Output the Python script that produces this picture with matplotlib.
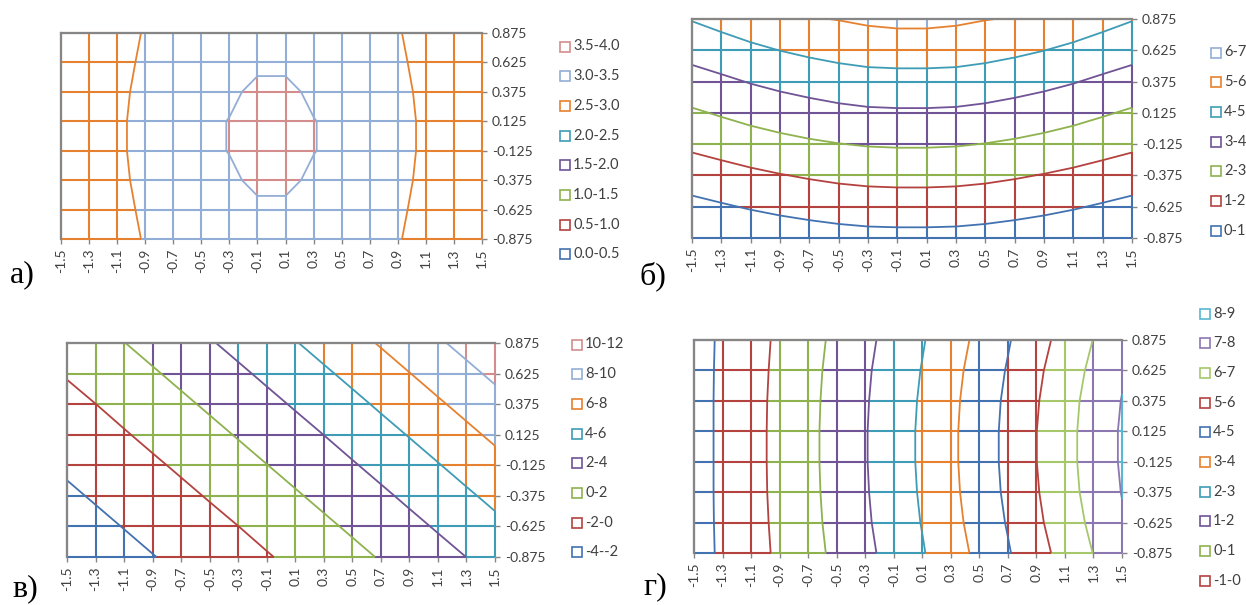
import numpy as np
import matplotlib
matplotlib.use('Agg')
import matplotlib.pyplot as plt
from matplotlib.collections import LineCollection
from matplotlib.lines import Line2D

plt.rcParams['font.family'] = ['Lato', 'DejaVu Sans']

# grid of the surface charts
x_vals = [-1.5, -1.3, -1.1, -0.9, -0.7, -0.5, -0.3, -0.1, 0.1, 0.3, 0.5, 0.7, 0.9, 1.1, 1.3, 1.5]
y_vals = [-0.875, -0.625, -0.375, -0.125, 0.125, 0.375, 0.625, 0.875]
x_labels = ['-1.5', '-1.3', '-1.1', '-0.9', '-0.7', '-0.5', '-0.3', '-0.1',
            '0.1', '0.3', '0.5', '0.7', '0.9', '1.1', '1.3', '1.5']
y_labels = ['-0.875', '-0.625', '-0.375', '-0.125', '0.125', '0.375', '0.625', '0.875']

# panel a) values, rows go from y=-0.875 up to y=0.875
z_a = [
    [2.52, 2.65, 2.83, 3.03, 3.18, 3.29, 3.34, 3.38, 3.38, 3.34, 3.29, 3.18, 3.03, 2.83, 2.65, 2.52],
    [2.56, 2.69, 2.87, 3.07, 3.24, 3.37, 3.41, 3.468, 3.468, 3.41, 3.37, 3.24, 3.07, 2.87, 2.69, 2.56],
    [2.60, 2.73, 2.908, 3.108, 3.29, 3.43, 3.47, 3.537, 3.537, 3.47, 3.43, 3.29, 3.108, 2.908, 2.73, 2.60],
    [2.62, 2.75, 2.93, 3.13, 3.32, 3.46, 3.505, 3.56, 3.56, 3.505, 3.46, 3.32, 3.13, 2.93, 2.75, 2.62],
    [2.62, 2.75, 2.93, 3.13, 3.32, 3.46, 3.505, 3.56, 3.56, 3.505, 3.46, 3.32, 3.13, 2.93, 2.75, 2.62],
    [2.60, 2.73, 2.908, 3.108, 3.29, 3.43, 3.47, 3.537, 3.537, 3.47, 3.43, 3.29, 3.108, 2.908, 2.73, 2.60],
    [2.56, 2.69, 2.87, 3.07, 3.24, 3.37, 3.41, 3.468, 3.468, 3.41, 3.37, 3.24, 3.07, 2.87, 2.69, 2.56],
    [2.52, 2.65, 2.83, 3.03, 3.18, 3.29, 3.34, 3.38, 3.38, 3.34, 3.29, 3.18, 3.03, 2.83, 2.65, 2.52],
]
levels_a = [0.0, 0.5, 1.0, 1.5, 2.0, 2.5, 3.0, 3.5, 4.0]
bands_a = ['0.0-0.5', '0.5-1.0', '1.0-1.5', '1.5-2.0', '2.0-2.5', '2.5-3.0', '3.0-3.5', '3.5-4.0']

# panel б)
z_b = [
    [0.05, 0.19, 0.34, 0.46, 0.56, 0.65, 0.71, 0.73, 0.73, 0.71, 0.65, 0.56, 0.46, 0.34, 0.19, 0.05],
    [0.75, 0.91, 1.07, 1.21, 1.33, 1.43, 1.50, 1.52, 1.52, 1.50, 1.43, 1.33, 1.21, 1.07, 0.91, 0.75],
    [1.45, 1.63, 1.81, 1.96, 2.09, 2.20, 2.27, 2.30, 2.30, 2.27, 2.20, 2.09, 1.96, 1.81, 1.63, 1.45],
    [2.20, 2.39, 2.57, 2.73, 2.87, 2.98, 3.06, 3.09, 3.09, 3.06, 2.98, 2.87, 2.73, 2.57, 2.39, 2.20],
    [2.88, 3.09, 3.30, 3.48, 3.63, 3.76, 3.85, 3.88, 3.88, 3.85, 3.76, 3.63, 3.48, 3.30, 3.09, 2.88],
    [3.60, 3.82, 4.05, 4.24, 4.40, 4.54, 4.64, 4.67, 4.67, 4.64, 4.54, 4.40, 4.24, 4.05, 3.82, 3.60],
    [4.35, 4.58, 4.81, 5.01, 5.18, 5.32, 5.42, 5.45, 5.45, 5.42, 5.32, 5.18, 5.01, 4.81, 4.58, 4.35],
    [5.05, 5.30, 5.55, 5.76, 5.94, 6.03, 6.16, 6.24, 6.24, 6.16, 6.03, 5.94, 5.76, 5.55, 5.30, 5.05],
]
levels_b = [0, 1, 2, 3, 4, 5, 6, 7]
bands_b = ['0-1', '1-2', '2-3', '3-4', '4-5', '5-6', '6-7']

# panel в)
z_c = [
    [-3.30, -2.91, -2.50, -2.06, -1.61, -1.14, -0.65, -0.13, 0.40, 0.95, 1.52, 2.12, 2.73, 3.36, 4.01, 4.69],
    [-2.81, -2.39, -1.95, -1.50, -1.02, -0.52, -0.01, 0.53, 1.09, 1.67, 2.27, 2.88, 3.52, 4.18, 4.86, 5.55],
    [-2.28, -1.84, -1.38, -0.90, -0.39, 0.13, 0.67, 1.23, 1.82, 2.42, 3.04, 3.68, 4.35, 5.03, 5.73, 6.45],
    [-1.73, -1.26, -0.77, -0.26, 0.26, 0.81, 1.38, 1.97, 2.57, 3.20, 3.85, 4.52, 5.20, 5.91, 6.64, 7.39],
    [-1.14, -0.65, -0.13, 0.40, 0.95, 1.52, 2.12, 2.73, 3.36, 4.01, 4.69, 5.38, 6.09, 6.82, 7.58, 8.35],
    [-0.52, -0.01, 0.53, 1.09, 1.67, 2.27, 2.88, 3.52, 4.18, 4.86, 5.55, 6.27, 7.01, 7.77, 8.54, 9.34],
    [0.13, 0.67, 1.23, 1.82, 2.42, 3.04, 3.68, 4.35, 5.03, 5.73, 6.45, 7.20, 7.96, 8.74, 9.54, 10.37],
    [0.81, 1.38, 1.97, 2.57, 3.20, 3.85, 4.52, 5.20, 5.91, 6.64, 7.39, 8.15, 8.94, 9.75, 10.58, 11.42],
]
levels_c = [-4, -2, 0, 2, 4, 6, 8, 10, 12]
bands_c = ['-4--2', '-2-0', '0-2', '2-4', '4-6', '6-8', '8-10', '10-12']

# panel г)
z_d = [
    [-1.37, -0.86, -0.35, 0.16, 0.66, 1.21, 1.78, 2.34, 2.93, 3.57, 4.23, 4.92, 5.65, 6.33, 7.02, 7.68],
    [-1.37, -0.84, -0.32, 0.20, 0.72, 1.28, 1.87, 2.44, 3.04, 3.70, 4.37, 5.07, 5.82, 6.51, 7.21, 7.89],
    [-1.37, -0.83, -0.30, 0.23, 0.75, 1.33, 1.92, 2.51, 3.11, 3.78, 4.46, 5.18, 5.93, 6.63, 7.35, 8.03],
    [-1.37, -0.83, -0.29, 0.24, 0.77, 1.35, 1.95, 2.54, 3.15, 3.82, 4.51, 5.23, 5.99, 6.69, 7.41, 8.10],
    [-1.37, -0.83, -0.29, 0.24, 0.77, 1.35, 1.95, 2.54, 3.15, 3.82, 4.51, 5.23, 5.99, 6.69, 7.41, 8.10],
    [-1.37, -0.83, -0.30, 0.23, 0.75, 1.33, 1.92, 2.51, 3.11, 3.78, 4.46, 5.18, 5.93, 6.63, 7.35, 8.03],
    [-1.37, -0.84, -0.32, 0.20, 0.72, 1.28, 1.87, 2.44, 3.04, 3.70, 4.37, 5.07, 5.82, 6.51, 7.21, 7.89],
    [-1.37, -0.86, -0.35, 0.16, 0.66, 1.21, 1.78, 2.34, 2.93, 3.57, 4.23, 4.92, 5.65, 6.33, 7.02, 7.68],
]
levels_d = [-2, -1, 0, 1, 2, 3, 4, 5, 6, 7, 8, 9]
bands_d = ['-2--1', '-1-0', '0-1', '1-2', '2-3', '3-4', '4-5', '5-6', '6-7', '7-8', '8-9']

BLUE = '#4272b0'
RED = '#b4423f'
GREEN = '#8eb24e'
PURPLE = '#705496'
TEAL = '#3e9cb6'
ORANGE = '#e6822f'
LBLUE = '#93aed6'
LRED = '#d38d8c'
LGREEN = '#a6c86b'
LPURPLE = '#8c77b0'
LTEAL = '#56b8d2'

colors_8 = [BLUE, RED, GREEN, PURPLE, TEAL, ORANGE, LBLUE, LRED]
colors_d = [BLUE, RED, GREEN, PURPLE, TEAL, ORANGE, BLUE, RED, LGREEN, LPURPLE, LTEAL]

W, H = 1246, 605
fig = plt.figure(figsize=(W / 100, H / 100), dpi=100)


def edge_pieces(p0, p1, z0, z1, levels):
    # split one grid edge where it crosses band limits
    ts = [0.0]
    if z1 != z0:
        for L in levels:
            t = (L - z0) / (z1 - z0)
            if 0 < t < 1:
                ts.append(t)
    ts = sorted(ts) + [1.0]
    out = []
    for ta, tb in zip(ts[:-1], ts[1:]):
        zm = z0 + 0.5 * (ta + tb) * (z1 - z0)
        k = int(np.searchsorted(levels, zm)) - 1
        pa = (p0[0] + ta * (p1[0] - p0[0]), p0[1] + ta * (p1[1] - p0[1]))
        pb = (p0[0] + tb * (p1[0] - p0[0]), p0[1] + tb * (p1[1] - p0[1]))
        out.append((pa, pb, k))
    return out


def panel(px, z, levels, colors, bands, legend_x, legend_y0, letter, letter_xy):
    left, right, top, bottom = px
    ax = fig.add_axes([left / W, 1 - bottom / H, (right - left) / W, (bottom - top) / H])
    z = np.array(z)
    segs, cols = [], []
    for j, y in enumerate(y_vals):
        for i in range(len(x_vals) - 1):
            for pa, pb, k in edge_pieces((x_vals[i], y), (x_vals[i + 1], y), z[j, i], z[j, i + 1], levels):
                segs.append([pa, pb])
                cols.append(colors[k])
    for i, x in enumerate(x_vals):
        for j in range(len(y_vals) - 1):
            for pa, pb, k in edge_pieces((x, y_vals[j]), (x, y_vals[j + 1]), z[j, i], z[j + 1, i], levels):
                segs.append([pa, pb])
                cols.append(colors[k])
    ax.add_collection(LineCollection(segs, colors=cols, linewidths=1.5, clip_on=False, zorder=2))

    # contour lines take the colour of the band under them
    inner = [(L, colors[k]) for k, L in enumerate(levels[1:-1]) if z.min() < L < z.max()]
    ax.contour(x_vals, y_vals, z, levels=[c[0] for c in inner],
               colors=[c[1] for c in inner], linewidths=1.3, zorder=3)

    ax.set_xlim(-1.5, 1.5)
    ax.set_ylim(-0.875, 0.875)
    for s in ['right', 'bottom']:
        ax.spines[s].set_visible(False)
    for s in ['top', 'left']:
        ax.spines[s].set_color('#868686')
        ax.spines[s].set_linewidth(1.6)
        ax.spines[s].set_zorder(4)
    ax.set_xticks(x_vals)
    ax.set_xticklabels(x_labels, rotation=90)
    ax.yaxis.tick_right()
    ax.set_yticks(y_vals)
    ax.set_yticklabels(y_labels)
    ax.tick_params(axis='both', direction='out', length=3.5, width=1, color='#868686',
                   labelsize=10, labelcolor='#404040', pad=3.5)
    ax.set_facecolor('white')

    # legend, highest band on top; entries that fall off the figure are left out
    for n, k in enumerate(range(len(bands) - 1, -1, -1)):
        yy = legend_y0 + n * 29.7
        if yy > H - 5:
            continue
        fig.add_artist(Line2D([legend_x / W], [1 - yy / H], marker='s', markersize=7,
                              markerfacecolor='white', markeredgecolor=colors[k],
                              markeredgewidth=1.2, linestyle='None',
                              transform=fig.transFigure))
        fig.text((legend_x + 8) / W, 1 - yy / H, bands[k], fontsize=10.5,
                 color='#404040', va='center', ha='left')

    fig.text(letter_xy[0] / W, 1 - letter_xy[1] / H, letter, fontsize=23,
             family='Liberation Serif', va='baseline', ha='left')
    return ax


panel((61, 482, 33, 239), z_a, levels_a, colors_8, bands_a, 565, 46.5, 'а)', (10, 282))
panel((692, 1132, 19, 238), z_b, levels_b, colors_8[:7], bands_b, 1216, 52.5, 'б)', (640, 284))
panel((67, 495, 343, 557), z_c, levels_c, colors_8, bands_c, 577, 344.5, 'в)', (12, 596))
panel((694, 1122, 340, 553), z_d, levels_d, colors_d, bands_d, 1205, 313.5, 'г)', (643, 594))

fig.savefig('out.png', dpi=100)
